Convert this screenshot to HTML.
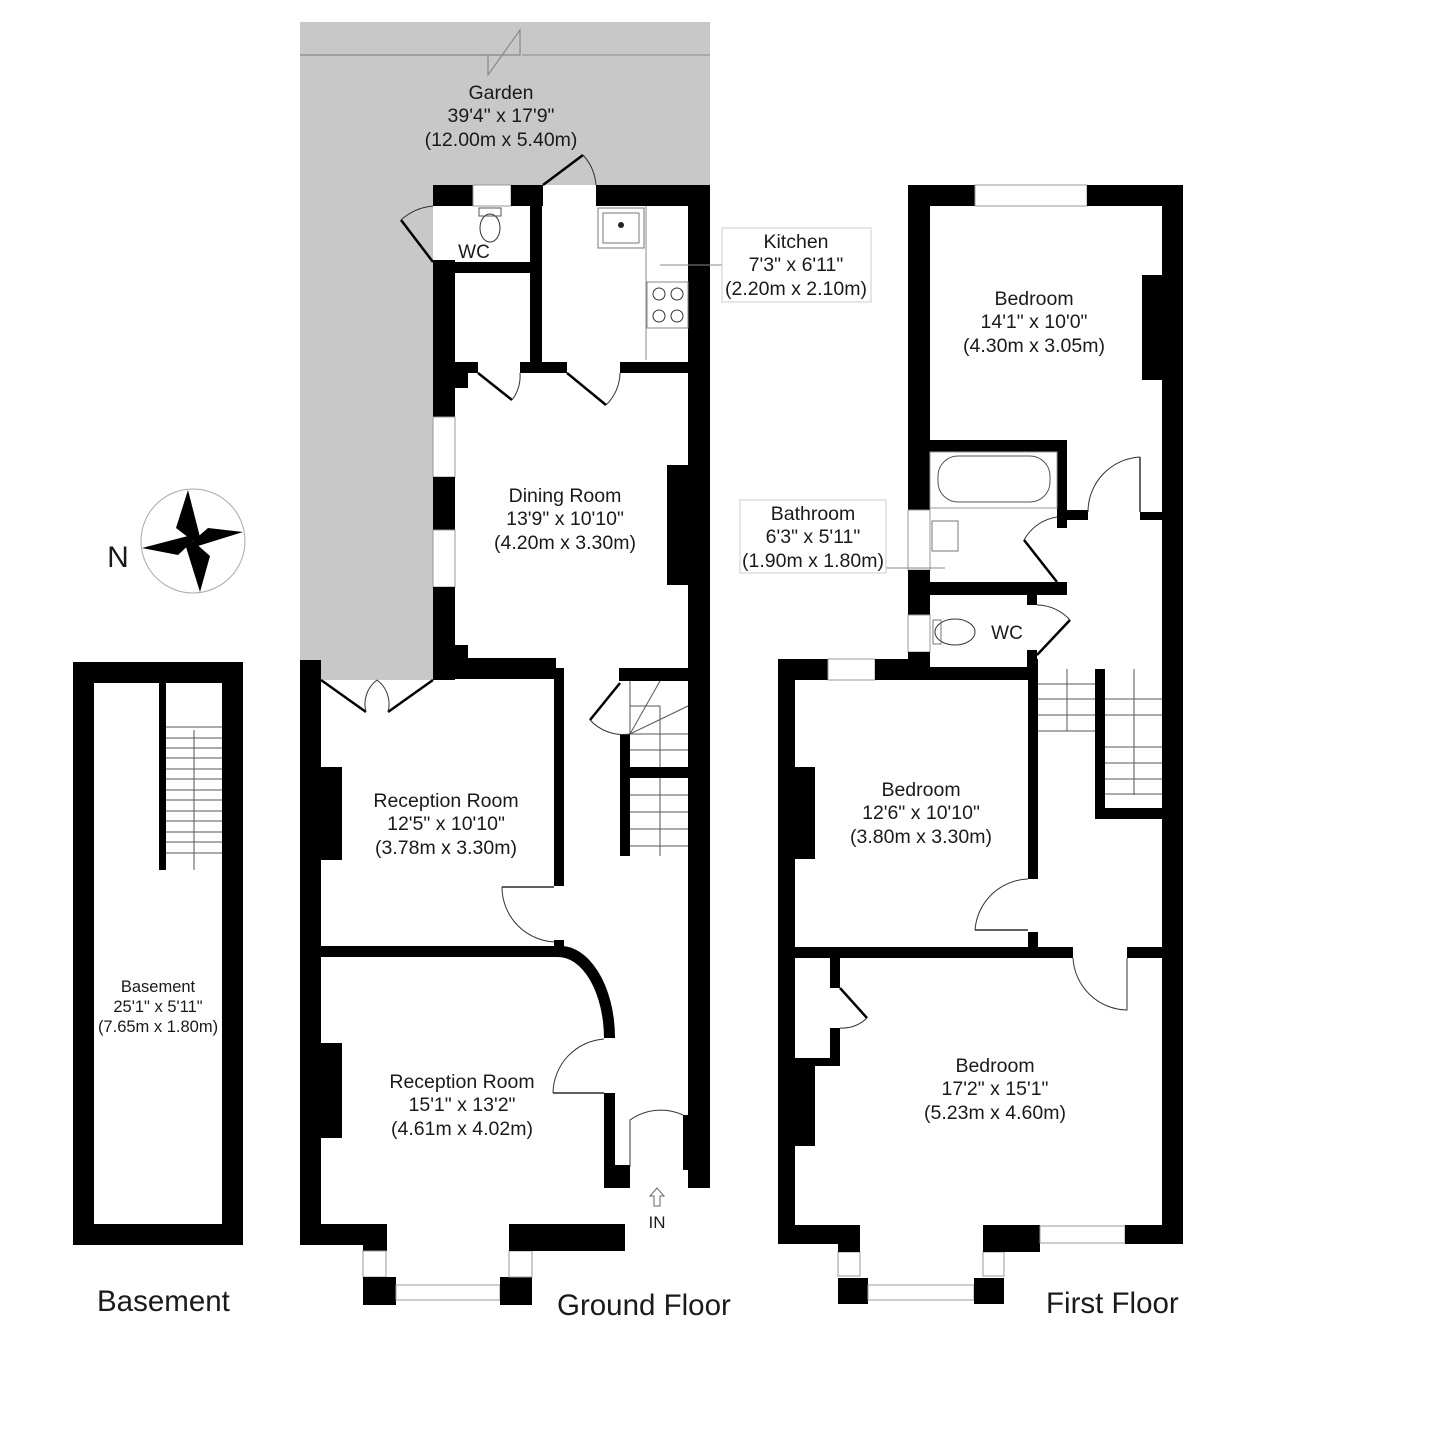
<!DOCTYPE html>
<html><head><meta charset="utf-8"><style>
html,body{margin:0;padding:0;background:#fff;}
svg{display:block;}
text{font-family:"Liberation Sans",sans-serif;fill:#1a1a1a;text-anchor:middle;}
.r{font-size:19.5px;}
.f{font-size:29.5px;text-anchor:start;}
.w{fill:#000;}
.win{fill:#fff;stroke:#999;stroke-width:1;}
.thin{stroke:#000;stroke-width:1.2;fill:none;}
.door{stroke:#000;stroke-width:2.5;fill:none;}
.arc{stroke:#333;stroke-width:1;fill:none;}
.st{stroke:#555;stroke-width:1;}
</style></head><body>
<svg width="1429" height="1432" viewBox="0 0 1429 1432" xmlns="http://www.w3.org/2000/svg">
<!-- Garden -->
<rect x="300" y="22" width="410" height="163" fill="#c8c8c8"/>
<rect x="300" y="185" width="133" height="495" fill="#c8c8c8"/>
<polyline points="300,55 520,55 520,30 488,75 488,55" class="thin" style="stroke:#888"/>
<line x1="522" y1="55" x2="710" y2="55" style="stroke:#888;stroke-width:1"/>
<text class="r" x="501" y="99">Garden</text>
<text class="r" x="501" y="122">39'4" x 17'9"</text>
<text class="r" x="501" y="146">(12.00m x 5.40m)</text>

<!-- ===== GROUND FLOOR ===== -->
<rect class="w" x="433" y="185" width="40" height="21"/>
<rect class="win" x="473" y="185" width="38" height="21"/>
<rect class="w" x="511" y="185" width="32" height="21"/>
<rect class="w" x="596" y="185" width="114" height="21"/>
<line x1="543" y1="185" x2="583" y2="155" class="door"/>
<path d="M583,155 A50,50 0 0 1 596,185" class="arc"/>
<rect class="w" x="530" y="185" width="12" height="188"/>
<rect class="w" x="433" y="262" width="109" height="11"/>
<rect class="w" x="433" y="260" width="22" height="157"/>
<rect class="win" x="433" y="417" width="22" height="60"/>
<rect class="w" x="433" y="477" width="22" height="53"/>
<rect class="win" x="433" y="530" width="22" height="57"/>
<rect class="w" x="433" y="587" width="22" height="93"/>
<line x1="433" y1="262" x2="401" y2="220" class="door"/>
<path d="M401,220 A55,55 0 0 1 433,206" class="arc"/>
<rect class="w" x="688" y="185" width="22" height="1003"/>
<rect class="w" x="683" y="1115" width="5" height="55"/>
<rect class="w" x="455" y="362" width="23" height="11"/>
<rect class="w" x="455" y="373" width="13" height="15"/>
<rect class="w" x="520" y="362" width="47" height="11"/>
<rect class="w" x="620" y="362" width="68" height="11"/>
<line x1="478" y1="373" x2="512" y2="400" class="door"/>
<path d="M512,400 A40,40 0 0 0 520,373" class="arc"/>
<line x1="567" y1="373" x2="606" y2="405" class="door"/>
<path d="M606,405 A45,45 0 0 0 620,373" class="arc"/>
<rect x="598" y="208" width="46" height="40" fill="none" stroke="#777"/>
<rect x="603" y="213" width="36" height="30" fill="none" stroke="#777"/>
<circle cx="621" cy="225" r="3" fill="#222"/>
<line x1="646" y1="206" x2="646" y2="360" stroke="#888"/>
<rect x="647" y="282" width="41" height="46" fill="none" stroke="#888"/>
<circle cx="659" cy="294" r="6" class="arc"/><circle cx="677" cy="294" r="6" class="arc"/>
<circle cx="659" cy="316" r="6" class="arc"/><circle cx="677" cy="316" r="6" class="arc"/>
<ellipse cx="490" cy="228" rx="10" ry="14" class="arc"/>
<rect x="479" y="208" width="22" height="8" fill="none" stroke="#555"/>
<text x="474" y="258" style="font-size:19px">WC</text>
<rect class="w" x="667" y="465" width="21" height="120"/>
<rect class="w" x="433" y="658" width="123" height="21"/>
<rect class="w" x="455" y="645" width="13" height="13"/>
<rect class="w" x="619" y="668" width="69" height="13"/>
<text class="r" x="565" y="502">Dining Room</text>
<text class="r" x="565" y="525">13'9" x 10'10"</text>
<text class="r" x="565" y="549">(4.20m x 3.30m)</text>
<rect class="w" x="300" y="660" width="21" height="585"/>
<rect class="w" x="554" y="668" width="10" height="218"/>
<line x1="321" y1="680" x2="366" y2="712" class="door"/><line x1="433" y1="680" x2="388" y2="712" class="door"/>
<path d="M366,712 A30,30 0 0 1 377,680 M388,712 A30,30 0 0 0 377,680" class="arc"/>
<rect class="w" x="321" y="767" width="21" height="93"/>
<path d="M502,887 A55,55 0 0 0 557,942" class="arc"/>
<line x1="502" y1="887" x2="554" y2="887" class="thin"/>
<text class="r" x="446" y="807">Reception Room</text>
<text class="r" x="446" y="830">12'5" x 10'10"</text>
<text class="r" x="446" y="854">(3.78m x 3.30m)</text>
<rect class="w" x="321" y="946" width="236" height="11"/>
<rect class="w" x="554" y="940" width="10" height="8"/>
<path d="M557,946 A55,92 0 0 1 615,1038 L604,1038 A46,82 0 0 0 557,957 Z" class="w"/>
<rect class="w" x="604" y="1093" width="11" height="76"/>
<rect class="w" x="604" y="1165" width="26" height="23"/>
<path d="M553,1093 A55,55 0 0 1 604,1039" class="arc"/>
<line x1="553" y1="1093" x2="604" y2="1093" class="thin"/>
<rect class="w" x="321" y="1043" width="21" height="95"/>
<text class="r" x="462" y="1088">Reception Room</text>
<text class="r" x="462" y="1111">15'1" x 13'2"</text>
<text class="r" x="462" y="1135">(4.61m x 4.02m)</text>
<rect class="w" x="300" y="1224" width="87" height="21"/>
<rect class="w" x="363" y="1245" width="24" height="6"/>
<rect class="win" x="363" y="1251" width="23" height="26"/>
<rect class="w" x="363" y="1277" width="33" height="28"/>
<rect class="win" x="396" y="1285" width="104" height="15"/>
<rect class="w" x="500" y="1277" width="32" height="28"/>
<rect class="win" x="509" y="1251" width="23" height="26"/>
<rect class="w" x="509" y="1224" width="116" height="27"/>
<path d="M630,1167 L630,1120 A53,53 0 0 1 683,1115" class="arc"/>
<text x="657" y="1228" style="font-size:17px">IN</text>
<path d="M657,1188 L650,1196 L654,1196 L654,1206 L660,1206 L660,1196 L664,1196 Z" fill="#fff" stroke="#666"/>
<rect class="w" x="620" y="734" width="10" height="122"/>
<rect class="w" x="620" y="767" width="68" height="11"/>
<g class="st">
<line x1="630" y1="681" x2="630" y2="734"/><line x1="630" y1="706" x2="660" y2="706"/><line x1="660" y1="706" x2="660" y2="734"/>
<line x1="630" y1="734" x2="688" y2="734"/><line x1="630" y1="734" x2="660" y2="681"/><line x1="630" y1="734" x2="688" y2="706"/>
<line x1="630" y1="750" x2="688" y2="750"/>
<line x1="630" y1="795" x2="688" y2="795"/><line x1="630" y1="812" x2="688" y2="812"/><line x1="630" y1="829" x2="688" y2="829"/><line x1="630" y1="846" x2="688" y2="846"/>
<line x1="660" y1="778" x2="660" y2="856"/><line x1="660" y1="734" x2="660" y2="767"/>
</g>
<line x1="620" y1="683" x2="590" y2="720" class="door"/>
<path d="M590,720 A45,45 0 0 0 630,734" class="arc"/>
<text class="f" x="557" y="1315">Ground Floor</text>

<line x1="660" y1="265" x2="722" y2="265" stroke="#888"/>
<rect x="722" y="228" width="149" height="74" fill="#fff" stroke="#ccc"/>
<text class="r" x="796" y="248">Kitchen</text>
<text class="r" x="796" y="271">7'3" x 6'11"</text>
<text class="r" x="796" y="295">(2.20m x 2.10m)</text>

<!-- ===== FIRST FLOOR ===== -->
<rect class="w" x="908" y="185" width="67" height="21"/>
<rect class="win" x="975" y="185" width="112" height="21"/>
<rect class="w" x="1087" y="185" width="96" height="21"/>
<rect class="w" x="908" y="185" width="22" height="325"/>
<rect class="win" x="908" y="510" width="22" height="60"/>
<rect class="w" x="908" y="570" width="22" height="45"/>
<rect class="win" x="908" y="615" width="22" height="37"/>
<rect class="w" x="908" y="652" width="22" height="28"/>
<rect class="w" x="1162" y="185" width="21" height="1059"/>
<rect class="w" x="1142" y="275" width="20" height="105"/>
<text class="r" x="1034" y="305">Bedroom</text>
<text class="r" x="1034" y="328">14'1" x 10'0"</text>
<text class="r" x="1034" y="352">(4.30m x 3.05m)</text>
<rect class="w" x="930" y="440" width="137" height="12"/>
<rect class="w" x="1057" y="440" width="10" height="88"/>
<rect class="w" x="1057" y="510" width="31" height="10"/>
<rect class="w" x="1140" y="512" width="22" height="8"/>
<line x1="1140" y1="457" x2="1140" y2="512" class="thin"/>
<path d="M1088,512 A55,55 0 0 1 1140,457" class="arc"/>
<rect x="938" y="456" width="112" height="46" rx="20" fill="none" stroke="#555"/>
<rect x="930" y="452" width="127" height="56" fill="none" stroke="#999"/>
<rect x="932" y="521" width="26" height="30" fill="none" stroke="#777"/>
<rect class="w" x="930" y="582" width="137" height="13"/>
<line x1="1024" y1="540" x2="1057" y2="582" class="door"/>
<path d="M1024,540 A45,45 0 0 1 1057,517" class="arc"/>
<rect class="w" x="1027" y="595" width="10" height="10"/>
<ellipse cx="955" cy="632" rx="20" ry="13" class="arc"/>
<rect x="933" y="620" width="8" height="24" fill="none" stroke="#777"/>
<text x="1007" y="639" style="font-size:19px">WC</text>
<line x1="1037" y1="655" x2="1070" y2="620" class="door"/>
<path d="M1037,605 A45,45 0 0 1 1070,620" class="arc"/>
<rect class="w" x="1027" y="650" width="10" height="30"/>
<line x1="886" y1="568" x2="945" y2="568" stroke="#888"/>
<rect x="740" y="500" width="146" height="73" fill="#fff" stroke="#ccc"/>
<text class="r" x="813" y="520">Bathroom</text>
<text class="r" x="813" y="543">6'3" x 5'11"</text>
<text class="r" x="813" y="567">(1.90m x 1.80m)</text>
<rect class="w" x="778" y="659" width="50" height="21"/>
<rect class="win" x="828" y="659" width="47" height="21"/>
<rect class="w" x="875" y="659" width="55" height="21"/>
<rect class="w" x="927" y="667" width="101" height="13"/>
<rect class="w" x="1028" y="659" width="10" height="220"/>
<rect class="w" x="1028" y="932" width="10" height="16"/>
<rect class="w" x="778" y="659" width="17" height="585"/>
<rect class="w" x="795" y="767" width="20" height="92"/>
<path d="M975,930 A55,55 0 0 1 1028,879" class="arc"/>
<line x1="975" y1="930" x2="1028" y2="930" class="thin"/>
<text class="r" x="921" y="796">Bedroom</text>
<text class="r" x="921" y="819">12'6" x 10'10"</text>
<text class="r" x="921" y="843">(3.80m x 3.30m)</text>
<rect class="w" x="1095" y="669" width="10" height="150"/>
<rect class="w" x="1095" y="808" width="67" height="11"/>
<g class="st">
<line x1="1038" y1="684" x2="1095" y2="684"/><line x1="1038" y1="699" x2="1095" y2="699"/><line x1="1038" y1="715" x2="1095" y2="715"/><line x1="1038" y1="731" x2="1095" y2="731"/>
<line x1="1067" y1="669" x2="1067" y2="731"/>
<line x1="1105" y1="699" x2="1162" y2="699"/><line x1="1105" y1="715" x2="1162" y2="715"/><line x1="1105" y1="747" x2="1162" y2="747"/><line x1="1105" y1="763" x2="1162" y2="763"/><line x1="1105" y1="779" x2="1162" y2="779"/><line x1="1105" y1="794" x2="1162" y2="794"/>
<line x1="1134" y1="669" x2="1134" y2="795"/>
</g>
<rect class="w" x="795" y="947" width="278" height="11"/>
<rect class="w" x="1127" y="947" width="35" height="11"/>
<path d="M1073,958 A55,55 0 0 0 1127,1010 L1127,958" class="arc"/>
<rect class="w" x="830" y="958" width="10" height="30"/>
<rect class="w" x="830" y="1028" width="10" height="38"/>
<rect class="w" x="795" y="1058" width="45" height="8"/>
<line x1="840" y1="988" x2="867" y2="1018" class="door"/>
<path d="M867,1018 A35,35 0 0 1 840,1028" class="arc"/>
<rect class="w" x="795" y="1066" width="20" height="80"/>
<text class="r" x="995" y="1072">Bedroom</text>
<text class="r" x="995" y="1095">17'2" x 15'1"</text>
<text class="r" x="995" y="1119">(5.23m x 4.60m)</text>
<rect class="w" x="778" y="1225" width="82" height="19"/>
<rect class="win" x="838" y="1252" width="22" height="24"/>
<rect class="w" x="838" y="1244" width="22" height="8"/>
<rect class="w" x="838" y="1278" width="30" height="26"/>
<rect class="win" x="868" y="1285" width="106" height="15"/>
<rect class="w" x="974" y="1278" width="30" height="26"/>
<rect class="win" x="983" y="1252" width="21" height="24"/>
<rect class="w" x="983" y="1225" width="57" height="27"/>
<rect class="win" x="1040" y="1226" width="85" height="17"/>
<rect class="w" x="1125" y="1225" width="58" height="19"/>
<text class="f" x="1046" y="1313">First Floor</text>

<!-- ===== BASEMENT ===== -->
<rect class="w" x="73" y="662" width="170" height="583"/>
<rect x="94" y="683" width="128" height="541" fill="#fff"/>
<rect class="w" x="159" y="683" width="7" height="187"/>
<g class="st">
<line x1="166" y1="727" x2="222" y2="727"/><line x1="166" y1="738" x2="222" y2="738"/><line x1="166" y1="748" x2="222" y2="748"/><line x1="166" y1="758" x2="222" y2="758"/><line x1="166" y1="769" x2="222" y2="769"/><line x1="166" y1="779" x2="222" y2="779"/><line x1="166" y1="790" x2="222" y2="790"/><line x1="166" y1="800" x2="222" y2="800"/><line x1="166" y1="811" x2="222" y2="811"/><line x1="166" y1="821" x2="222" y2="821"/><line x1="166" y1="832" x2="222" y2="832"/><line x1="166" y1="842" x2="222" y2="842"/><line x1="166" y1="853" x2="222" y2="853"/>
<line x1="194" y1="730" x2="194" y2="870"/>
</g>
<text x="158" y="992" style="font-size:16.5px">Basement</text>
<text x="158" y="1012" style="font-size:16.5px">25'1" x 5'11"</text>
<text x="158" y="1032" style="font-size:16.5px">(7.65m x 1.80m)</text>
<text class="f" x="97" y="1311">Basement</text>

<circle cx="193" cy="541" r="52" fill="none" stroke="#aaa"/>
<polygon points="188,490 200,537 193,541 176,528" class="w"/>
<polygon points="243,532 198,546 193,541 208,528" class="w"/>
<polygon points="200,592 186,547 193,541 210,556" class="w"/>
<polygon points="142,548 188,536 193,541 178,555" class="w"/>
<text x="118" y="567" style="font-size:30px">N</text>
</svg>
</body></html>
